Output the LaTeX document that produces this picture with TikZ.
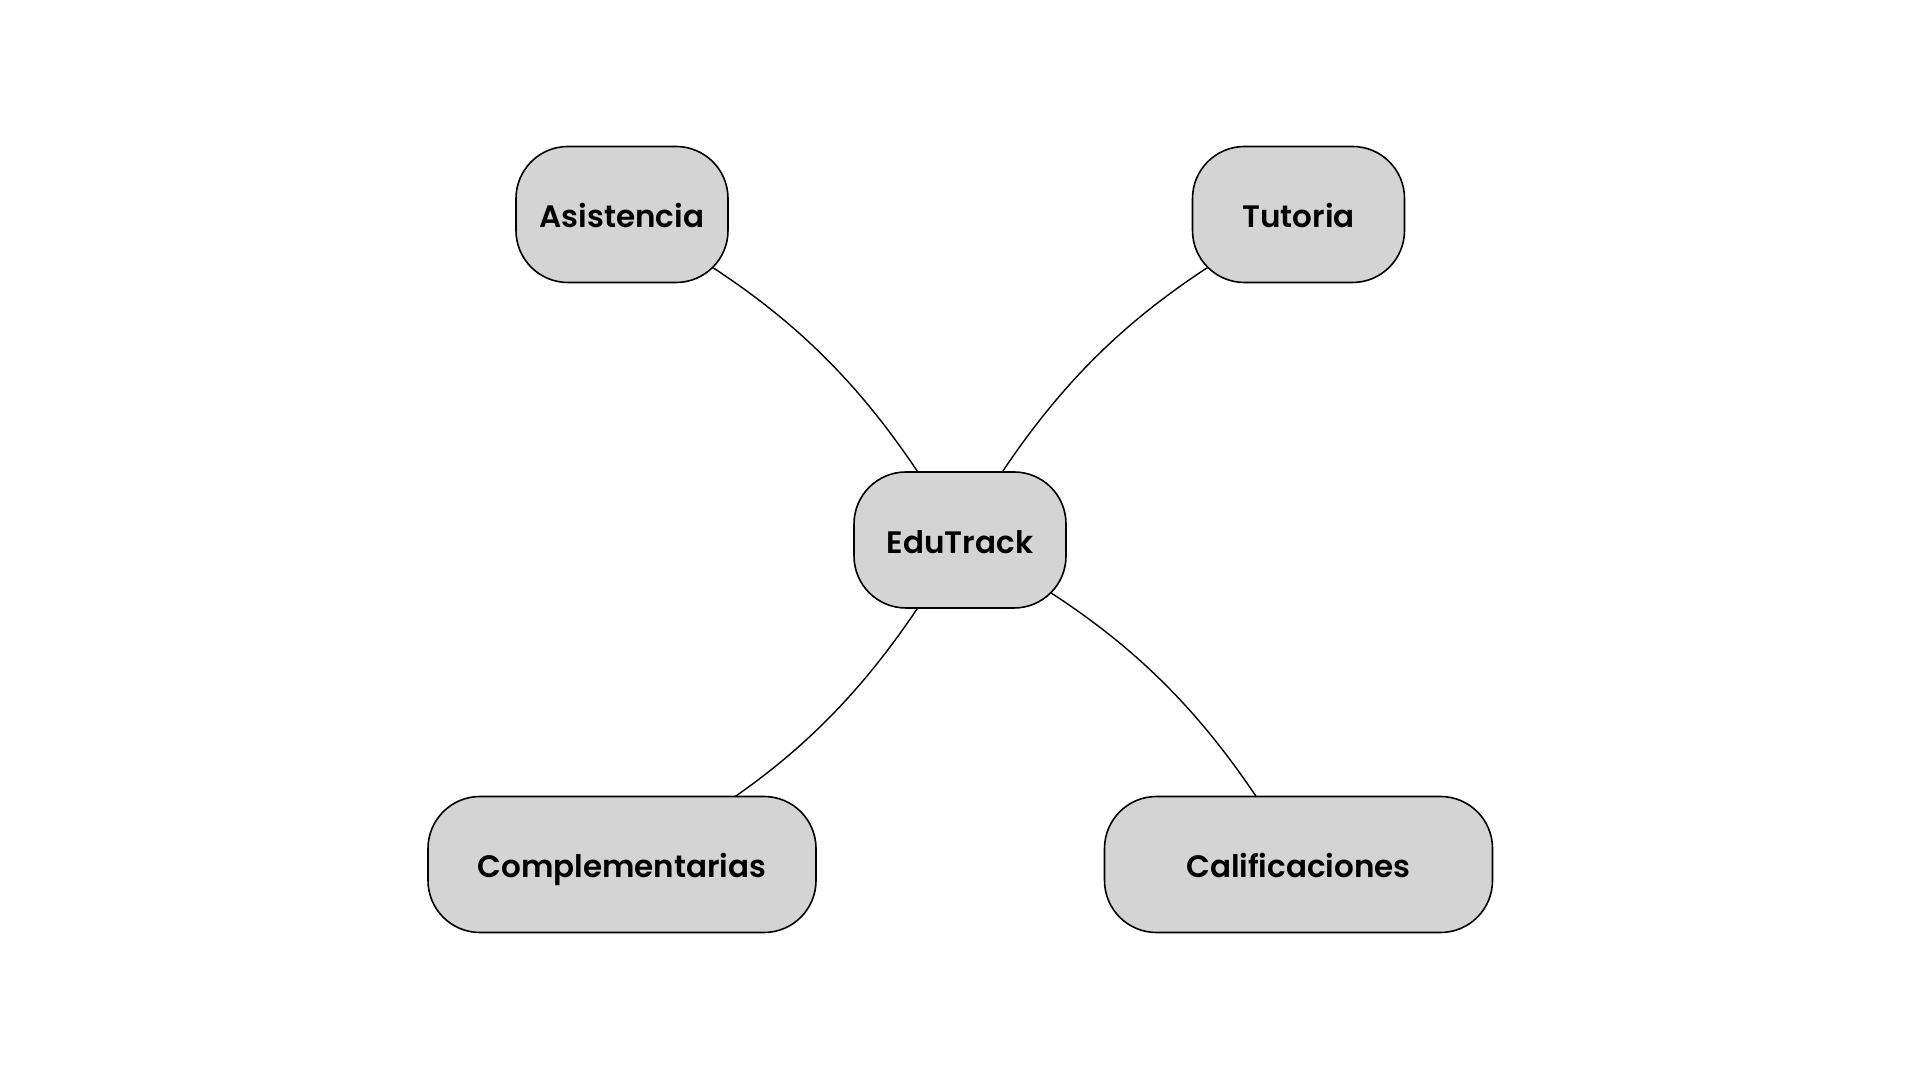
\documentclass[tikz,border=0pt]{standalone}
\usepackage{fontspec}
\setmainfont{Poppins SemiBold}
\pgfdeclarelayer{bg}
\pgfsetlayers{bg,main}
\definecolor{boxfill}{HTML}{D4D4D4}
\tikzset{
  mmnode/.style={draw=black, line width=0.8pt, fill=boxfill, rounded corners=26pt,
    minimum height=68pt, inner sep=0pt, text height=13.2pt, text depth=0pt,
    font=\fontsize{15.5pt}{18pt}\selectfont, text=black},
  mmedge/.style={draw=black, line width=0.7pt}
}
\begin{document}
\begin{tikzpicture}[x=0.5pt,y=0.5pt]
\useasboundingbox (0,0) rectangle (1920,1080);
\node[mmnode, minimum width=106pt] (edu) at (960,540) {EduTrack};
\node[mmnode, minimum width=106pt] (asis) at (622,865.5) {Asistencia};
\node[mmnode, minimum width=106pt] (tut) at (1298.5,865.5) {Tutoria};
\node[mmnode, minimum width=194pt] (comp) at (622,215.5) {Complementarias};
\node[mmnode, minimum width=194pt] (cal) at (1298.5,215.5) {Calificaciones};
\begin{pgfonlayer}{bg}
\draw[mmedge] (edu.center) to[bend right=16] (asis.center);
\draw[mmedge] (edu.center) to[bend left=16] (tut.center);
\draw[mmedge] (edu.center) to[bend left=16] (comp.center);
\draw[mmedge] (edu.center) to[bend left=16] (cal.center);
\end{pgfonlayer}
\end{tikzpicture}
\end{document}
